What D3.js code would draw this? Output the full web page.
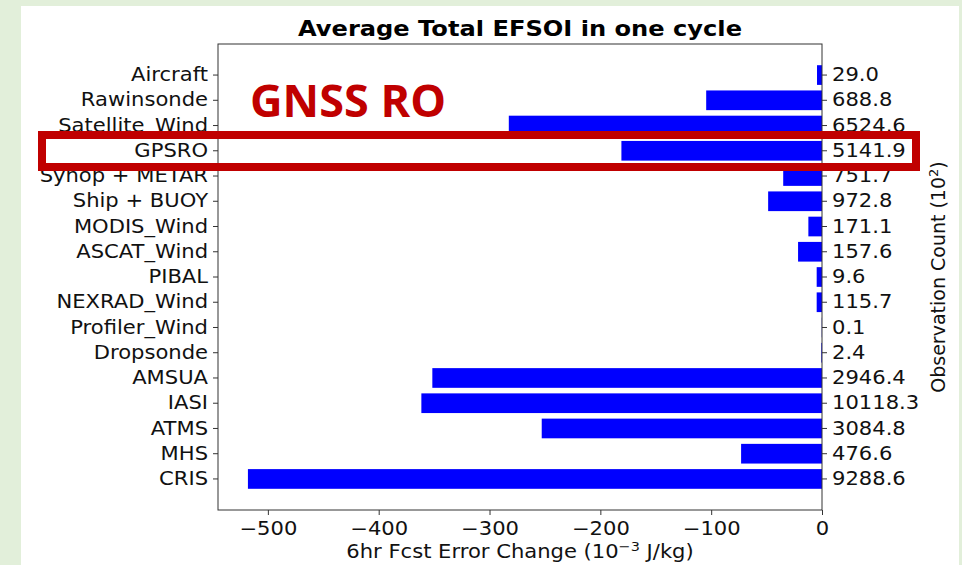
<!DOCTYPE html>
<html>
<head>
<meta charset="utf-8">
<script src="https://cdn.jsdelivr.net/npm/d3@7"></script>
<style>
  body { margin: 0; background: #e2efda; }
  svg { display: block; }
</style>
</head>
<body>
<svg id="svg1"></svg>
<script>
const categories = ["Aircraft", "Rawinsonde", "Satellite_Wind", "GPSRO", "Synop + METAR",
  "Ship + BUOY", "MODIS_Wind", "ASCAT_Wind", "PIBAL", "NEXRAD_Wind", "Profiler_Wind",
  "Dropsonde", "AMSUA", "IASI", "ATMS", "MHS", "CRIS"];
const efsoi = [-4.5, -104.5, -282.6, -181, -35, -48.6, -12.3, -21.6, -4.8, -4.8, -0.2,
  -0.6, -351.6, -361.5, -252.9, -73, -518];
const obsCount = ["29.0", "688.8", "6524.6", "5141.9", "751.7", "972.8", "171.1", "157.6",
  "9.6", "115.7", "0.1", "2.4", "2946.4", "10118.3", "3084.8", "476.6", "9288.6"];
const xTicks = [-500, -400, -300, -200, -100, 0];

const W = 962, H = 565;
const margin = {top: 44, right: 140, bottom: 55, left: 218};
const width = W - margin.left - margin.right;   // 604
const height = H - margin.top - margin.bottom;  // 466
const font = "'DejaVu Sans', sans-serif";
const stretch = 1.11; // the original picture is a bit wider than tall

const root = d3.select('#svg1')
    .attr('width', W)
    .attr('height', H);

// white slide panel
root.append('rect')
    .attr('x', 21).attr('y', 6)
    .attr('width', 938).attr('height', H - 6)
    .attr('fill', '#fff');

const svg = root.append('g')
    .attr('transform', 'translate(' + margin.left + ',' + margin.top + ')');

const x = d3.scaleLinear()
    .domain([-545, 0])
    .range([0, width]);

const y = d3.scaleBand()
    .domain(categories)
    .range([0, height])
    .paddingInner(0.22)
    .paddingOuter(0.84);

const data = categories.map((c, i) => ({name: c, value: efsoi[i], count: obsCount[i]}));

svg.selectAll('.bar')
    .data(data)
    .enter()
    .append('rect')
    .attr('class', 'bar')
    .attr('x', d => x(Math.min(0, d.value)))
    .attr('y', d => y(d.name))
    .attr('width', d => Math.abs(x(d.value) - x(0)))
    .attr('height', y.bandwidth())
    .attr('fill', '#0000ff');

// axes
const yLeft = svg.append('g')
    .call(d3.axisLeft(y).tickSize(5).tickPadding(4));

const yRight = svg.append('g')
    .attr('transform', 'translate(' + width + ',0)')
    .call(d3.axisRight(y).tickSize(5).tickPadding(4).tickFormat((d, i) => obsCount[i]));

const xAxis = svg.append('g')
    .attr('transform', 'translate(0,' + height + ')')
    .call(d3.axisBottom(x).tickValues(xTicks).tickSize(5).tickPadding(7)
      .tickFormat(d => d < 0 ? '\u2212' + Math.abs(d) : d));

[yLeft, yRight, xAxis].forEach(function(g) {
  g.select('.domain').remove();
  g.selectAll('line').attr('stroke', '#333');
  g.selectAll('text')
      .attr('fill', '#111')
      .attr('transform', 'scale(' + stretch + ',1)')
      .style('font-family', font)
      .style('font-size', '19px');
});

// frame
svg.append('rect')
    .attr('width', width).attr('height', height)
    .attr('fill', 'none')
    .attr('stroke', '#333')
    .attr('stroke-width', 1);

// title and labels
root.append('text')
    .attr('transform', 'translate(' + (margin.left + width / 2) + ',36) scale(1.15,1)')
    .attr('text-anchor', 'middle')
    .style('font-family', font)
    .style('font-size', '21px')
    .style('font-weight', 'bold')
    .text('Average Total EFSOI in one cycle');

const xl = root.append('text')
    .attr('transform', 'translate(' + (margin.left + width / 2) + ',558) scale(' + stretch + ',1)')
    .attr('text-anchor', 'middle')
    .attr('fill', '#111')
    .style('font-family', font)
    .style('font-size', '19px');
xl.append('tspan').text('6hr Fcst Error Change (10');
xl.append('tspan').attr('dy', -7).style('font-size', '13px').text('\u22123');
xl.append('tspan').attr('dy', 7).text(' J/kg)');

const yl = root.append('text')
    .attr('transform', 'translate(945,' + (margin.top + height / 2) + ') rotate(-90)')
    .attr('text-anchor', 'middle')
    .attr('fill', '#111')
    .style('font-family', font)
    .style('font-size', '19px');
yl.append('tspan').text('Observation Count (10');
yl.append('tspan').attr('dy', -7).style('font-size', '13px').text('2');
yl.append('tspan').attr('dy', 7).text(')');

// GNSS RO highlight
root.append('rect')
    .attr('x', 42).attr('y', 135)
    .attr('width', 874).attr('height', 32)
    .attr('fill', 'none')
    .attr('stroke', '#c00000')
    .attr('stroke-width', 8);

root.append('text')
    .attr('x', 250)
    .attr('y', 117)
    .attr('fill', '#c00000')
    .style('font-family', "'Open Sans', sans-serif")
    .style('font-size', '45px')
    .style('font-weight', 'bold')
    .text('GNSS RO');
</script>
</body>
</html>
